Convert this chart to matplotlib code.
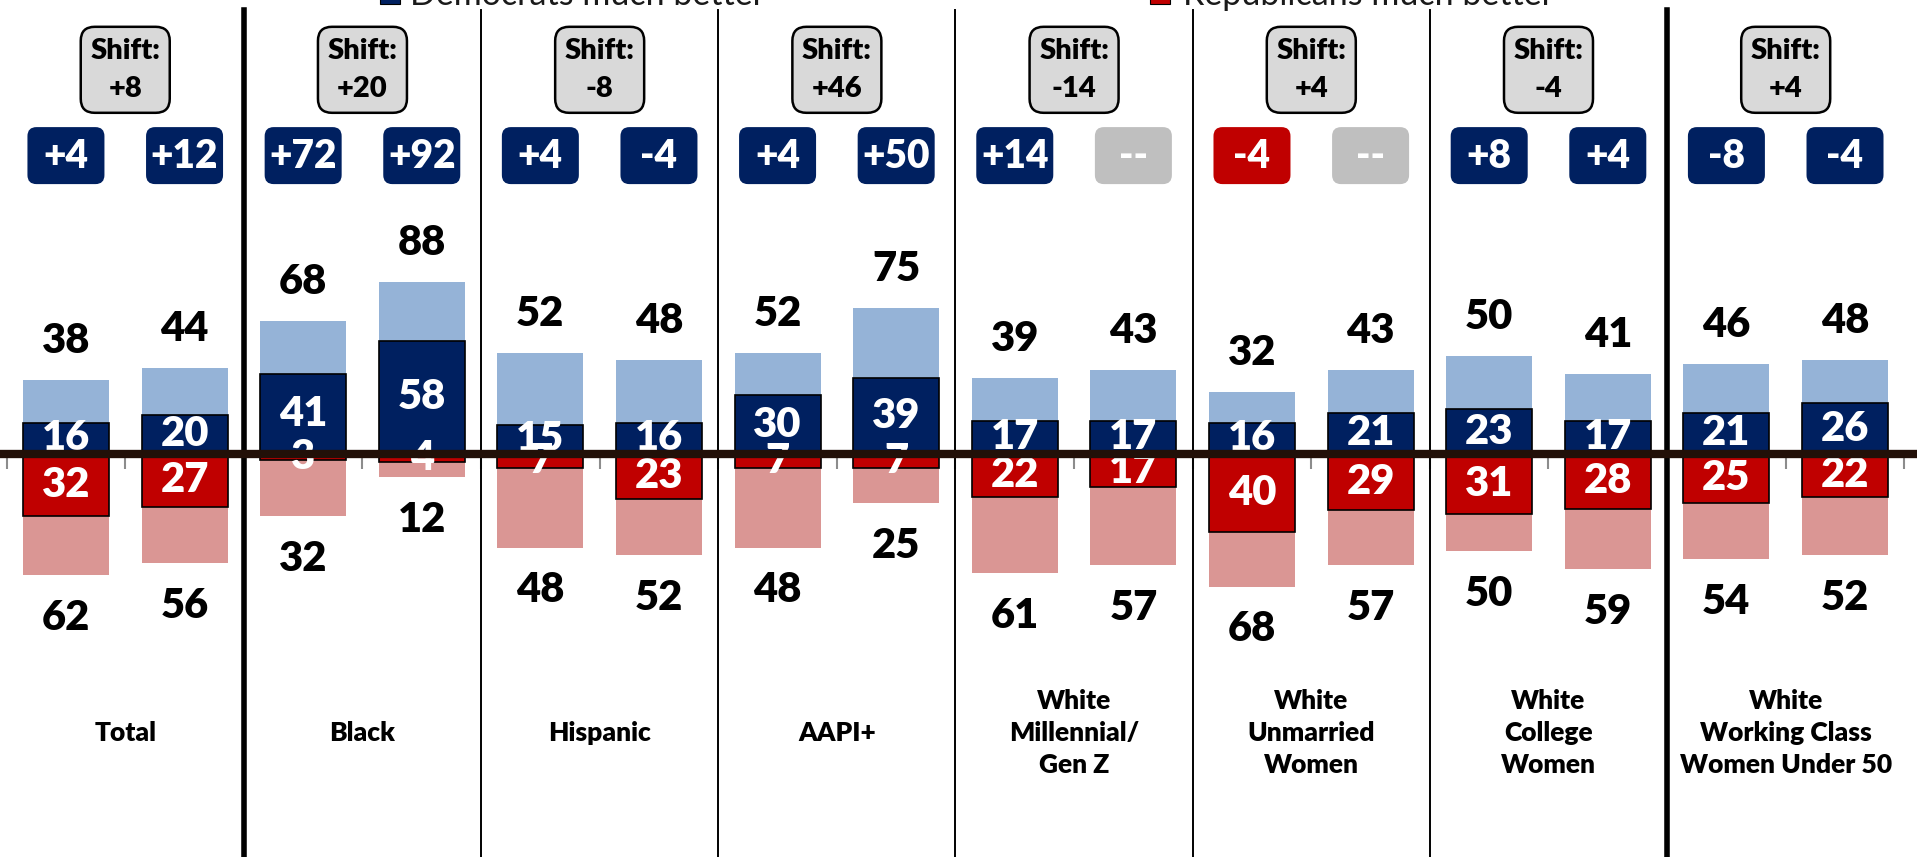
import numpy as np
import matplotlib
matplotlib.use("Agg")
import matplotlib.pyplot as plt
import matplotlib.patches as mpatches
import matplotlib.transforms as mtransforms

plt.rcParams["font.family"] = ["Lato", "DejaVu Sans"]

groups = ["Total", "Black", "Hispanic", "AAPI+", "White\nMillennial/\nGen Z",
          "White\nUnmarried\nWomen", "White\nCollege\nWomen",
          "White\nWorking Class\nWomen Under 50"]
shifts = ["+8", "+20", "-8", "+46", "-14", "+4", "-4", "+4"]

dem_total = [38, 44, 68, 88, 52, 48, 52, 75, 39, 43, 32, 43, 50, 41, 46, 48]
dem_much = [16, 20, 41, 58, 15, 16, 30, 39, 17, 17, 16, 21, 23, 17, 21, 26]
rep_total = [62, 56, 32, 12, 48, 52, 48, 25, 61, 57, 68, 57, 50, 59, 54, 52]
rep_much = [32, 27, 3, 4, 7, 23, 7, 7, 22, 17, 40, 29, 31, 28, 25, 22]
margins = ["+4", "+12", "+72", "+92", "+4", "-4", "+4", "+50",
           "+14", "--", "-4", "--", "+8", "+4", "-8", "-4"]
margin_side = ["D", "D", "D", "D", "D", "D", "D", "D",
               "D", "N", "R", "N", "D", "D", "D", "D"]

NAVY = "#002060"
LIGHT = "#95B3D7"
RED = "#C00000"
PINK = "#DA9694"
side_color = {"D": NAVY, "R": RED, "N": "#BFBFBF"}
WEIGHT = "heavy"

W, H = 1917, 857
fig = plt.figure(figsize=(W / 100, H / 100), dpi=100)
ax = fig.add_axes([0, 0, 1, 1])

x = np.arange(len(dem_total))
bw = 0.725

ax.bar(x, dem_total, width=bw, color=LIGHT, zorder=2)
ax.bar(x, dem_much, width=bw, color=NAVY, edgecolor="black", linewidth=1.2, zorder=3)
ax.bar(x, [-v for v in rep_total], width=bw, color=PINK, zorder=2)
ax.bar(x, [-v for v in rep_much], width=bw, color=RED, edgecolor="black", linewidth=1.2, zorder=3)

ax.set_xlim(-0.556, 15.607)
ax.set_ylim(-206.7, 232.8)

for i in x:
    ax.text(i, dem_total[i] + 20, str(dem_total[i]), ha="center", va="center",
            fontsize=30, fontweight=WEIGHT, color="black", zorder=5)
    ax.text(i, -rep_total[i] - 22, str(rep_total[i]), ha="center", va="center",
            fontsize=30, fontweight=WEIGHT, color="black", zorder=5)
    ax.text(i, dem_much[i] / 2, str(dem_much[i]), ha="center", va="center",
            fontsize=30, fontweight=WEIGHT, color="white", zorder=5)
    ax.text(i, -rep_much[i] / 2, str(rep_much[i]), ha="center", va="center",
            fontsize=30, fontweight=WEIGHT, color="white", zorder=5)

# margin boxes above each bar
for i in x:
    trans = fig.dpi_scale_trans + mtransforms.ScaledTranslation(i, 153, ax.transData)
    box = mpatches.FancyBboxPatch((-0.385, -0.285), 0.77, 0.57,
                                  boxstyle="round,pad=0,rounding_size=0.09",
                                  facecolor=side_color[margin_side[i]], edgecolor="none",
                                  transform=trans, zorder=6, clip_on=False)
    ax.add_patch(box)
    ax.text(0, -0.01, margins[i], transform=trans, ha="center", va="center",
            fontsize=28, fontweight=WEIGHT, color="white", zorder=7)

# shift boxes and group labels
for g, name in enumerate(groups):
    gx = 2 * g + 0.5
    trans = fig.dpi_scale_trans + mtransforms.ScaledTranslation(gx, 197, ax.transData)
    box = mpatches.FancyBboxPatch((-0.445, -0.43), 0.89, 0.86,
                                  boxstyle="round,pad=0,rounding_size=0.14",
                                  facecolor="#D9D9D9", edgecolor="black", linewidth=1.8,
                                  transform=trans, zorder=6, clip_on=False)
    ax.add_patch(box)
    ax.text(0, 0.19, "Shift:", transform=trans, ha="center", va="center",
            fontsize=21, fontweight=WEIGHT, color="black", zorder=7)
    ax.text(0, -0.19, shifts[g], transform=trans, ha="center", va="center",
            fontsize=21, fontweight=WEIGHT, color="black", zorder=7)
    ax.text(gx, -143, name, ha="center", va="center", fontsize=19,
            fontweight=WEIGHT, linespacing=1.4, color="black")

# group separators
for b in range(1, len(groups)):
    pos = 2 * b - 0.5
    thick = b in (1, 7)
    ax.axvline(pos, ymin=0, ymax=1 - 10 / H, color="black",
               linewidth=4 if thick else 1.4, zorder=4)

# zero line with small ticks
for s in ["top", "left", "right"]:
    ax.spines[s].set_visible(False)
ax.spines["bottom"].set_position(("data", 0))
ax.spines["bottom"].set_color("#221008")
ax.spines["bottom"].set_linewidth(6)
ax.spines["bottom"].set_zorder(10)
ax.set_xticks(np.arange(-0.5, 16, 1))
ax.set_xticklabels([])
ax.tick_params(axis="x", direction="out", length=11, width=1.5, color="#8C8C8C")
ax.set_yticks([])

# legend, cut off at the top edge
for lx, tx, col, lab in [(380, 410, NAVY, "Democrats much better"),
                         (1150, 1183, RED, "Republicans much better")]:
    fig.patches.append(mpatches.Rectangle((lx / W, 1 - 4 / H), 20 / W, 20 / H,
                                          facecolor=col, edgecolor="black", linewidth=0.8,
                                          transform=fig.transFigure))
    fig.text(tx / W, 1 - 5 / H, lab, ha="left", va="baseline", fontsize=24.5,
             color="#1a1a1a")

fig.savefig("out.png", dpi=100)
plt.close(fig)
